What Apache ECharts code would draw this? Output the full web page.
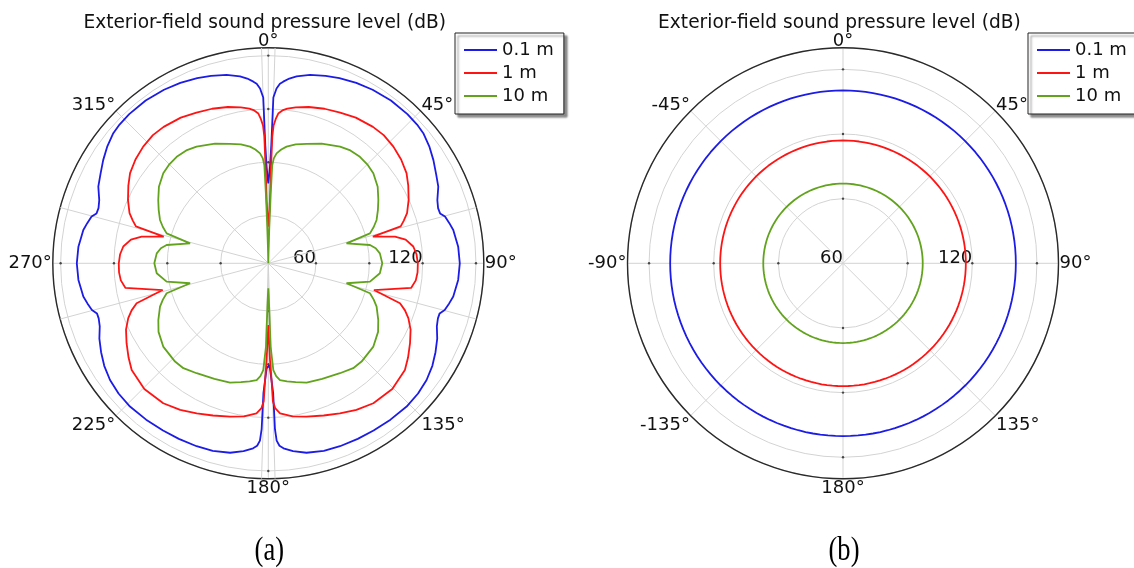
<!DOCTYPE html>
<html>
<head>
<meta charset="utf-8">
<script src="https://cdn.jsdelivr.net/npm/echarts@6/dist/echarts.min.js"></script>
<style>
  html, body { margin: 0; padding: 0; background: #fff; }
  #chart { width: 1134px; height: 568px; }
</style>
</head>
<body>
<div id="chart"></div>
<script>
// ---- data ----
const titleText = 'Exterior-field sound pressure level (dB)';
const seriesNames = ['0.1 m', '1 m', '10 m'];
const seriesColors = ['#1c1ce6', '#ff1414', '#62a31e'];
const panelLabels = ['(a)', '(b)'];

// (a) angle in degrees (clockwise from the top) and level in dB, right half 0..180;
// the left half is the mirror image.
const blueAngles = [0, 0.5, 1.0, 1.45, 1.75, 2.7, 3.7, 4.7, 6.5, 8.6, 12.5, 17, 21, 26, 31, 37, 43, 47, 50, 54, 58, 62, 65.7, 69.5, 72, 73.8, 75.2, 77.5, 79.8, 85, 90, 95, 100.2, 102.5, 104.8, 106.3, 108, 110.5, 114, 118, 122, 126.4, 131, 136, 142, 147.8, 153, 158.6, 163.5, 168.6, 172.5, 175.3, 176.5, 177.3, 177.7, 177.85, 179.1, 179.6, 180];
const blueLevels = [78.2, 82.0, 87.6, 99.6, 126.5, 131.6, 134.4, 135.7, 137.8, 139.5, 141.7, 143.4, 144.8, 146.1, 147.1, 147.8, 147.9, 147.6, 147.0, 145.1, 142.7, 140.1, 138.1, 134.7, 133.6, 133.8, 136.0, 137.5, 138.9, 140.4, 140.9, 140.4, 138.9, 137.4, 135.8, 133.6, 133.5, 134.4, 137.2, 139.7, 142.0, 143.8, 144.8, 145.2, 144.8, 144.3, 144.0, 143.7, 143.2, 141.9, 139.8, 137.6, 136.0, 133.0, 126.6, 106.3, 92.3, 90.6, 90.0];

const redAngles = [0, 0.8, 1.3, 1.5, 1.6, 1.8, 2.2, 3.0, 3.8, 5.5, 7, 10, 14.5, 20, 25.5, 31, 37.5, 42, 47, 52, 56.9, 61, 65.7, 70.1, 72.5, 74.4, 75.7, 78.1, 80.2, 83.4, 86.5, 90, 93.5, 96.6, 99.8, 104.2, 106.9, 109, 111.4, 115, 119.4, 124, 128, 135.4, 143.1, 149, 154.5, 160, 166, 171, 175.5, 177.3, 178.1, 178.35, 179, 179.5, 180];
const redLevels = [53.8, 58.5, 64.1, 68.8, 87.6, 104.6, 110.8, 114.7, 117.6, 119.8, 120.9, 122.3, 124.0, 125.7, 127.1, 128.8, 129.9, 130.2, 129.4, 128.0, 126.0, 123.2, 119.8, 116.2, 113.1, 110.5, 93.9, 106.0, 111.6, 115.3, 116.7, 117.3, 117.3, 116.7, 114.7, 94.5, 110.6, 114.5, 117.8, 121.5, 124.7, 128.0, 130.7, 132.5, 131.6, 129.4, 126.7, 124.3, 122.1, 120.4, 117.8, 114.7, 110.8, 100.7, 87.6, 75.4, 67.9];

const greenAngles = [0, 1.0, 1.6, 2.0, 2.3, 3.0, 4.3, 6.5, 8.9, 13, 17.8, 24, 31.6, 36, 40.7, 45, 49.4, 55, 60.1, 64, 68.2, 71, 73.6, 75.7, 79.8, 82, 84.9, 90, 95.1, 100.2, 104.3, 106.4, 109, 111.8, 117.3, 122, 128.4, 136.5, 141, 146.9, 155, 162.2, 167, 171, 174.3, 176, 177.3, 178.4, 178.8, 179.3, 180];
const greenLevels = [33.2, 38.8, 52.9, 72.6, 88.3, 92.3, 95.2, 97.6, 99.6, 101.8, 103.7, 106.9, 110.2, 111.7, 112.2, 111.9, 111.0, 108.3, 104.6, 101.8, 98.8, 95.9, 92.8, 78.6, 91.3, 94.2, 96.2, 97.3, 96.2, 91.3, 78.6, 92.8, 95.9, 98.8, 102.8, 106.0, 108.6, 109.4, 109.1, 107.0, 104.9, 103.7, 101.8, 100.4, 99.2, 96.8, 93.3, 80.0, 59.5, 51.2, 47.3];

// (b) omnidirectional levels, dB
const uniformLevels = [140.2, 117.0, 97.0];

// radial scales and grid
const radialRangeA = [33.2, 154.4];
const radialRangeB = [60, 160];
const labeledLevels = [60, 120];
const tickLevels = [60, 90, 120, 150];
const tickAngles = [0, 90, 180, 270];
const extraSpokesA = [1.8, 75, 105, 178.2, 181.8, 255, 285, 358.2];

// ---- layout / style ----
const FONT = 'DejaVu Sans';
const TEXT = '#111';
const GRID = '#d3d3d3';
const centers = [[268.3, 263.3], [843, 263.3]];
const R = 215.5;
const CURVE_WIDTH = 1.8;

function mirrored(angles, levels) {
  const pts = angles.map((a, i) => [levels[i], a]);
  for (let i = angles.length - 2; i >= 0; i--) pts.push([levels[i], 360 - angles[i]]);
  return pts;
}
const ringAngles = Array.from({ length: 145 }, (_, i) => i * 2.5);

const chart = echarts.init(document.getElementById('chart'), null, { renderer: 'canvas' });

function angleAxis(idx, fmt) {
  return {
    polarIndex: idx, type: 'value', min: 0, max: 360, interval: 45,
    startAngle: 90, clockwise: true,
    axisLine: { show: true, lineStyle: { color: '#2a2a2a', width: 1.4 } },
    axisTick: { show: false },
    axisLabel: {
      show: true, margin: 1, padding: [0, 0, -4, 0],
      fontSize: 18, fontFamily: FONT, color: TEXT, formatter: fmt
    },
    splitLine: { show: true, lineStyle: { color: GRID, width: 1 } }
  };
}
function gridRadius(idx, range) {
  return {
    polarIndex: idx, type: 'value', min: range[0], max: range[1], splitNumber: 4,
    axisLine: { show: false }, axisTick: { show: false }, axisLabel: { show: false },
    splitLine: { show: true, showMaxLine: false, lineStyle: { color: GRID, width: 1 } }
  };
}
function labelRadius(idx, range, showMin) {
  return {
    polarIndex: idx, type: 'value', min: range[0], max: range[1], splitNumber: 4,
    axisLine: { show: false }, axisTick: { show: false }, splitLine: { show: false },
    axisLabel: {
      show: true, margin: 0, padding: [0, 0, -4, 0],
      showMinLabel: showMin, showMaxLabel: false,
      align: 'right', verticalAlign: 'bottom',
      fontSize: 18, fontFamily: FONT, color: TEXT,
      formatter: v => (labeledLevels.indexOf(Math.round(v * 1000) / 1000) >= 0 ? String(v) : '')
    }
  };
}
function legend(left) {
  return {
    orient: 'vertical', left: left, top: 33, data: seriesNames,
    icon: 'rect', itemWidth: 33, itemHeight: 2, itemGap: 5,
    padding: [8, 10, 9, 9],
    backgroundColor: '#fff', borderColor: '#222', borderWidth: 1, borderRadius: 0,
    shadowColor: 'rgba(0,0,0,0.45)', shadowBlur: 2, shadowOffsetX: 3, shadowOffsetY: 3,
    textStyle: { fontSize: 18, fontFamily: FONT, color: TEXT },
    selectedMode: false
  };
}

const series = [];
const curvesA = [[blueAngles, blueLevels], [redAngles, redLevels], [greenAngles, greenLevels]];
// extra radial grid lines of panel (a)
extraSpokesA.forEach(a => series.push({
  type: 'line', coordinateSystem: 'polar', polarIndex: 0, silent: true, z: 1,
  showSymbol: false, lineStyle: { color: GRID, width: 1 },
  data: [[radialRangeA[0], a], [radialRangeA[1], a]]
}));
curvesA.forEach((c, k) => series.push({
  name: seriesNames[k], type: 'line', coordinateSystem: 'polar', polarIndex: 0,
  showSymbol: false, smooth: false, color: seriesColors[k],
  lineStyle: { width: CURVE_WIDTH, color: seriesColors[k] }, z: 3,
  data: mirrored(c[0], c[1])
}));
uniformLevels.forEach((lv, k) => series.push({
  name: seriesNames[k], type: 'line', coordinateSystem: 'polar', polarIndex: 1,
  showSymbol: false, smooth: false, color: seriesColors[k],
  lineStyle: { width: CURVE_WIDTH, color: seriesColors[k] }, z: 3,
  data: ringAngles.map(a => [lv, a])
}));
// tick dots on the four half axes
[0, 1].forEach(p => {
  const pts = [];
  tickLevels.forEach(v => tickAngles.forEach(a => {
    if (!(p === 1 && v === radialRangeB[0])) pts.push([v, a]);
  }));
  series.push({
    type: 'scatter', coordinateSystem: 'polar', polarIndex: p, silent: true, z: 2,
    symbol: 'circle', symbolSize: 2.4, itemStyle: { color: '#222' }, data: pts
  });
});

const titleStyle = { fontSize: 18.6, fontWeight: 'normal', fontFamily: FONT, color: TEXT };
const option = {
  animation: false,
  textStyle: { fontFamily: FONT },
  title: [
    { text: titleText, left: centers[0][0] - 3.6, top: 14, textAlign: 'center', padding: 0, textStyle: titleStyle },
    { text: titleText, left: centers[1][0] - 3.6, top: 14, textAlign: 'center', padding: 0, textStyle: titleStyle }
  ],
  legend: [legend(455), legend(1028)],
  polar: [
    { center: centers[0], radius: R },
    { center: centers[1], radius: R },
    { center: centers[0], radius: R },
    { center: centers[1], radius: R }
  ],
  angleAxis: [
    angleAxis(0, v => v + '°'),
    angleAxis(1, v => (v > 180 ? v - 360 : v) + '°'),
    { polarIndex: 2, type: 'value', min: 0, max: 360, startAngle: 0, show: false },
    { polarIndex: 3, type: 'value', min: 0, max: 360, startAngle: 0, show: false }
  ],
  radiusAxis: [
    gridRadius(0, radialRangeA),
    gridRadius(1, radialRangeB),
    labelRadius(2, radialRangeA, false),
    labelRadius(3, radialRangeB, true)
  ],
  graphic: panelLabels.map((t, i) => ({
    type: 'text', x: centers[i][0] + 1, y: 551, scaleX: 0.78, silent: true,
    style: { text: t, fill: '#000', font: '34px "Liberation Serif"', align: 'center', verticalAlign: 'middle' }
  })),
  series: series
};
chart.setOption(option);
</script>
</body>
</html>
